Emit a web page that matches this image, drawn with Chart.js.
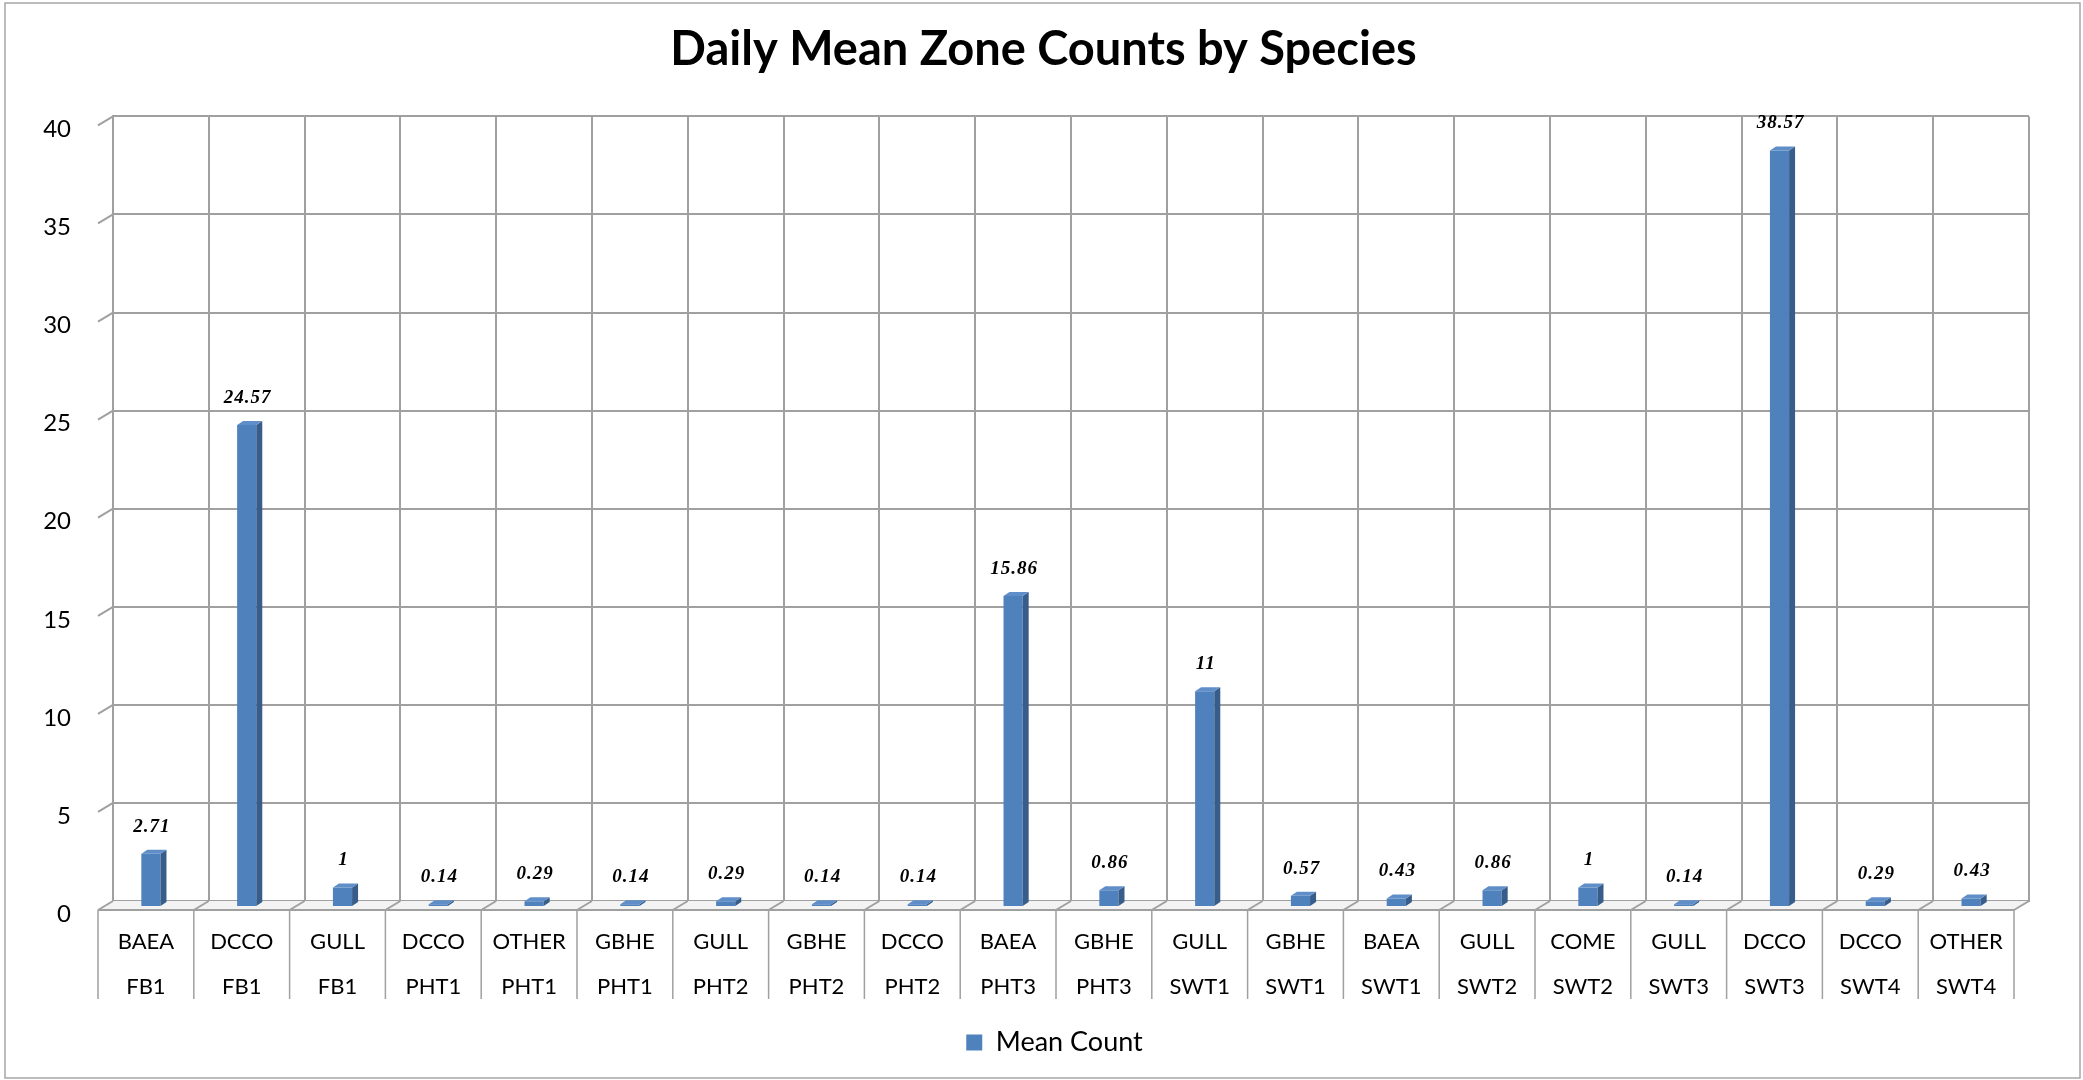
<!DOCTYPE html>
<html>
<head>
<meta charset="utf-8">
<title>Daily Mean Zone Counts by Species</title>
<script src="https://cdn.jsdelivr.net/npm/chart.js@4.4.1/dist/chart.umd.min.js"></script>
<style>
  html, body { margin: 0; padding: 0; background: #fff; }
  #wrap { width: 2083px; height: 1080px; }
</style>
</head>
<body>
<div id="wrap"><canvas id="myChart"></canvas></div>
<script>
// data
const species = ['BAEA', 'DCCO', 'GULL', 'DCCO', 'OTHER', 'GBHE', 'GULL', 'GBHE', 'DCCO', 'BAEA',
                 'GBHE', 'GULL', 'GBHE', 'BAEA', 'GULL', 'COME', 'GULL', 'DCCO', 'DCCO', 'OTHER'];
const zones = ['FB1', 'FB1', 'FB1', 'PHT1', 'PHT1', 'PHT1', 'PHT2', 'PHT2', 'PHT2', 'PHT3',
               'PHT3', 'SWT1', 'SWT1', 'SWT1', 'SWT2', 'SWT2', 'SWT3', 'SWT3', 'SWT4', 'SWT4'];
const meanCount = [2.71, 24.57, 1, 0.14, 0.29, 0.14, 0.29, 0.14, 0.14, 15.86,
                   0.86, 11, 0.57, 0.43, 0.86, 1, 0.14, 38.57, 0.29, 0.43];
const yMin = 0;
const yMax = 40;
const yStep = 5;

const labels = species.map((s, i) => [s, zones[i]]);

// fake 3d: back wall -> front edge, back wall -> bar plane, bar depth
const DEPTH_X = -15, DEPTH_Y = 9;
const BAR_X = -10, BAR_Y = 6;
const SIDE_X = 6, SIDE_Y = -4;
const GRID = '#a0a0a0';

const wall3d = {
    id: 'wall3d',
    afterLayout(chart) {
        // title and legend sit a little right of centre in the original
        chart.titleBlock.left += 29;
        chart.titleBlock.right += 29;
        chart.legend.left += 40;
        chart.legend.right += 40;
    },
    beforeDraw(chart) {
        const ctx = chart.ctx;
        ctx.save();
        ctx.strokeStyle = '#a6a6a6';
        ctx.lineWidth = 1.5;
        ctx.strokeRect(5, 3, chart.width - 8, chart.height - 5);
        ctx.restore();
    },
    beforeDatasetsDraw(chart) {
        const ctx = chart.ctx;
        const a = chart.chartArea;
        const x = chart.scales.x;
        const y = chart.scales.y;
        const n = x.ticks.length;
        const step = x.width / n;

        ctx.save();
        // floor slab
        ctx.fillStyle = '#f3f3f3';
        ctx.beginPath();
        ctx.moveTo(a.left, a.bottom);
        ctx.lineTo(a.right, a.bottom);
        ctx.lineTo(a.right + DEPTH_X, a.bottom + DEPTH_Y);
        ctx.lineTo(a.left + DEPTH_X, a.bottom + DEPTH_Y);
        ctx.closePath();
        ctx.fill();

        ctx.strokeStyle = GRID;
        ctx.lineWidth = 2;
        ctx.beginPath();
        ctx.moveTo(a.left + DEPTH_X, a.bottom + DEPTH_Y);
        ctx.lineTo(a.right + DEPTH_X, a.bottom + DEPTH_Y);
        for (let i = 0; i <= n; i++) {
            const bx = x.left + i * step;
            ctx.moveTo(bx, a.bottom);
            ctx.lineTo(bx + DEPTH_X, a.bottom + DEPTH_Y);
        }
        // little slanted ticks on the y axis
        y.ticks.forEach(t => {
            const py = y.getPixelForValue(t.value);
            ctx.moveTo(a.left, py);
            ctx.lineTo(a.left + DEPTH_X, py + DEPTH_Y);
        });
        ctx.stroke();

        // category box separators under the floor
        ctx.lineWidth = 1.5;
        ctx.beginPath();
        for (let i = 0; i <= n; i++) {
            const bx = x.left + i * step + DEPTH_X;
            ctx.moveTo(bx, a.bottom + DEPTH_Y);
            ctx.lineTo(bx, a.bottom + DEPTH_Y + 89);
        }
        ctx.stroke();
        ctx.restore();

        // bars sit half way into the floor
        ctx.save();
        ctx.translate(BAR_X, BAR_Y);
    },
    afterDatasetsDraw(chart) {
        const ctx = chart.ctx;
        const bars = chart.getDatasetMeta(0).data;
        bars.forEach(bar => {
            const l = bar.x - bar.width / 2;
            const r = bar.x + bar.width / 2;
            const t = bar.y;
            const b = bar.base;
            ctx.fillStyle = '#385d8a';
            ctx.beginPath();
            ctx.moveTo(r, t);
            ctx.lineTo(r + SIDE_X, t + SIDE_Y);
            ctx.lineTo(r + SIDE_X, b + SIDE_Y);
            ctx.lineTo(r, b);
            ctx.closePath();
            ctx.fill();
            ctx.fillStyle = '#5f8ec8';
            ctx.beginPath();
            ctx.moveTo(l, t);
            ctx.lineTo(l + SIDE_X, t + SIDE_Y);
            ctx.lineTo(r + SIDE_X, t + SIDE_Y);
            ctx.lineTo(r, t);
            ctx.closePath();
            ctx.fill();
        });
        ctx.restore();

        // value labels
        ctx.save();
        ctx.font = 'italic bold 19px "Liberation Serif", "Times New Roman", serif';
        ctx.letterSpacing = '1px';
        ctx.fillStyle = '#000';
        ctx.textAlign = 'center';
        ctx.textBaseline = 'middle';
        bars.forEach((bar, i) => {
            ctx.fillText(String(meanCount[i]), bar.x + BAR_X + 1, bar.y + BAR_Y - 27);
        });
        ctx.restore();
    }
};

const ctx = document.getElementById('myChart').getContext('2d');

const chart = new Chart(ctx, {
    type: 'bar',
    data: {
        labels: labels,
        datasets: [
            {
                label: 'Mean Count',
                data: meanCount,
                backgroundColor: '#4f81bd',
                borderWidth: 0,
                barPercentage: 0.2,
                categoryPercentage: 1.0
            }
        ]
    },
    plugins: [wall3d],
    options: {
        responsive: true,
        maintainAspectRatio: false,
        animation: false,
        layout: { padding: { left: 0, right: 54, top: 0, bottom: 14 } },
        plugins: {
            title: {
                display: true,
                text: 'Daily Mean Zone Counts by Species',
                color: '#000',
                font: { family: 'Lato', size: 47, weight: 'bold' },
                padding: { top: 22, bottom: 38 }
            },
            legend: {
                position: 'bottom',
                labels: {
                    color: '#000',
                    font: { family: 'Lato', size: 27 },
                    boxWidth: 16,
                    boxHeight: 16,
                    padding: 10
                }
            },
            tooltip: { enabled: false }
        },
        scales: {
            x: {
                grid: { offset: true, color: GRID, lineWidth: 2, drawTicks: false },
                border: { color: GRID, width: 2 },
                ticks: {
                    color: '#000',
                    font: { family: 'Lato', size: 22, lineHeight: 2.05 },
                    padding: 18,
                    labelOffset: DEPTH_X,
                    autoSkip: false,
                    maxRotation: 0
                },
                afterFit(scale) { scale.height = 118; }
            },
            y: {
                min: yMin,
                max: yMax,
                grid: { color: GRID, lineWidth: 2, drawTicks: false },
                border: { color: GRID, width: 2 },
                ticks: {
                    stepSize: yStep,
                    color: '#000',
                    font: { family: 'Lato', size: 24 },
                    padding: 42,
                    labelOffset: 13
                },
                afterFit(scale) { scale.width = 113; }
            }
        }
    }
});
</script>
</body>
</html>
